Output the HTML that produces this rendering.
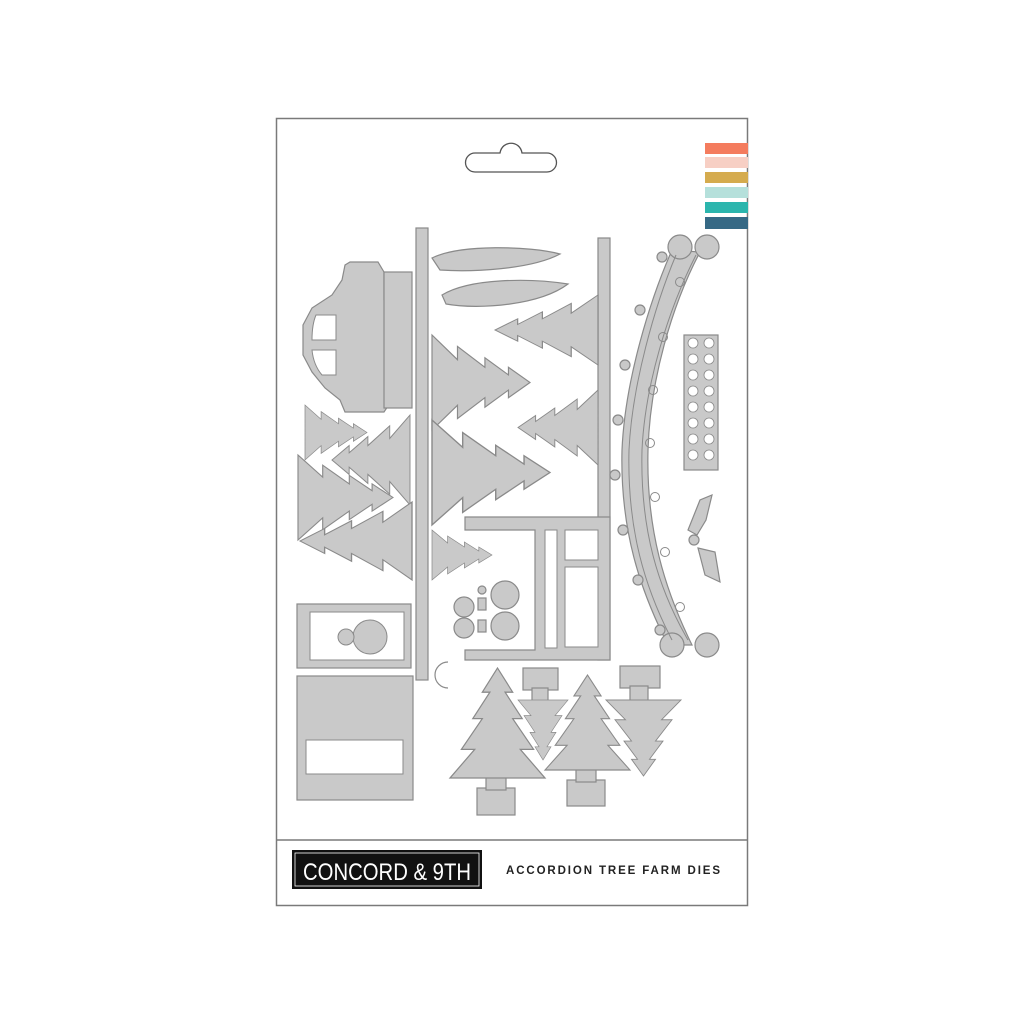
<!DOCTYPE html>
<html><head><meta charset="utf-8"><style>
html,body{margin:0;padding:0;background:#fff;width:1024px;height:1024px;overflow:hidden}
svg{display:block}
</style></head><body>
<svg width="1024" height="1024" viewBox="0 0 1024 1024">
<defs>
<path id="tree" d="M50 0 L66 22 L58 22 L76 46 L66 46 L88 74 L74 74 L100 100 L0 100 L26 74 L12 74 L34 46 L24 46 L42 22 L34 22 Z"/>
</defs>
<rect x="276.5" y="118.5" width="471" height="787" fill="#fff" stroke="#7a7a7a" stroke-width="1.5"/>
<line x1="277" y1="840" x2="747" y2="840" stroke="#7a7a7a" stroke-width="1.5"/>
<path d="M475 153 H500 C502 140 520 140 522 153 H547 A9.5 9.5 0 0 1 547 172 H475 A9.5 9.5 0 0 1 475 153 Z" fill="#fff" stroke="#555" stroke-width="1.3"/>
<rect x="705" y="143" width="43" height="11" fill="#f47c5e"/>
<rect x="705" y="157" width="43" height="11" fill="#f7cfc4"/>
<rect x="705" y="172" width="43" height="11" fill="#d5ab4e"/>
<rect x="705" y="187" width="43" height="11" fill="#b5e0db"/>
<rect x="705" y="202" width="43" height="11" fill="#2bb5ad"/>
<rect x="705" y="217" width="43" height="12" fill="#366985"/>

<g fill="#c9c9c9" stroke="#8a8a8a" stroke-width="1.2">
<!-- car -->
<path d="M350 262 H378 L384 272 V300 L392 312 V400 L384 412 H345 L340 400 L325 388 L312 372 L303 355 V325 L312 308 L332 295 L342 280 L345 265 Z"/>
<rect x="384" y="272" width="28" height="136"/>
<!-- stacked trees (sideways) -->
<use href="#tree" transform="translate(367,405) rotate(90) scale(0.55,0.62)"/>
<use href="#tree" transform="translate(332,505) rotate(-90) scale(0.9,0.78)"/>
<use href="#tree" transform="translate(393,455) rotate(90) scale(0.85,0.95)"/>
<use href="#tree" transform="translate(300,580) rotate(-90) scale(0.78,1.12)"/>
<!-- wreath box -->
<rect x="297" y="604" width="114" height="64"/>
<rect x="297" y="676" width="116" height="124"/>
<!-- vertical strips -->
<rect x="416" y="228" width="12" height="452"/>
<rect x="598" y="238" width="12" height="422"/>
<!-- leaves -->
<path d="M432 258 C460 244 530 246 560 254 C530 270 470 272 440 270 Z"/>
<path d="M442 295 C470 278 530 278 568 284 C540 305 480 310 446 304 Z"/>
<!-- sideways trees -->
<use href="#tree" transform="translate(530,335) rotate(90) scale(0.95,0.98)"/>
<use href="#tree" transform="translate(550,420) rotate(90) scale(1.05,1.18)"/>
<use href="#tree" transform="translate(492,530) rotate(90) scale(0.5,0.6)"/>
<use href="#tree" transform="translate(495,365) rotate(-90) scale(0.7,1.03)"/>
<use href="#tree" transform="translate(518,465) rotate(-90) scale(0.75,0.8)"/>
<!-- grid -->
<path d="M465 517 H610 V660 H465 V650 H535 V530 H465 Z"/>
<!-- circles -->
<circle cx="482" cy="590" r="4"/>
<circle cx="464" cy="607" r="10"/>
<circle cx="464" cy="628" r="10"/>
<rect x="478" y="598" width="8" height="12"/>
<rect x="478" y="620" width="8" height="12"/>
<circle cx="505" cy="595" r="14"/>
<circle cx="505" cy="626" r="14"/>
<path d="M448 662 A12 12 0 1 0 448 688 A10 10 0 0 1 448 662 Z"/>
<!-- bottom trees -->
<rect x="477" y="788" width="38" height="27"/>
<rect x="486" y="770" width="20" height="20"/>
<use href="#tree" transform="translate(450,668) scale(0.95,1.1)"/>
<rect x="567" y="780" width="38" height="26"/>
<rect x="576" y="762" width="20" height="20"/>
<use href="#tree" transform="translate(545,675) scale(0.85,0.95)"/>
<rect x="523" y="668" width="35" height="22"/>
<rect x="532" y="688" width="16" height="14"/>
<use href="#tree" transform="translate(518,760) scale(0.5,-0.6)"/>
<rect x="620" y="666" width="40" height="22"/>
<rect x="630" y="686" width="18" height="16"/>
<use href="#tree" transform="translate(606,776) scale(0.75,-0.76)"/>
<!-- arch -->
<path d="M672 250 C650 300 625 380 622 450 C620 530 640 590 668 645 L692 645 C665 590 646 530 648 450 C650 380 672 305 700 252 Z"/>
<circle cx="680" cy="247" r="12"/>
<circle cx="707" cy="247" r="12"/>
<circle cx="672" cy="645" r="12"/>
<circle cx="707" cy="645" r="12"/>
<circle cx="662" cy="257" r="5"/><circle cx="640" cy="310" r="5"/><circle cx="625" cy="365" r="5"/><circle cx="618" cy="420" r="5"/><circle cx="615" cy="475" r="5"/><circle cx="623" cy="530" r="5"/><circle cx="638" cy="580" r="5"/><circle cx="660" cy="630" r="5"/>
<!-- circles grid -->
<rect x="684" y="335" width="34" height="135"/>
<!-- holly -->
<path d="M688 530 L700 500 L712 495 L706 520 L697 535 Z"/>
<path d="M698 548 L715 552 L720 582 L705 575 Z"/>
<circle cx="694" cy="540" r="5"/>
</g>
<g fill="none" stroke="#8a8a8a" stroke-width="1">
<path d="M676 255 C655 305 632 385 629 450 C627 530 645 588 672 640"/>
<path d="M696 255 C668 310 645 385 642 450 C640 530 658 588 688 640"/>
<circle cx="680" cy="282" r="4.5"/><circle cx="663" cy="337" r="4.5"/><circle cx="653" cy="390" r="4.5"/><circle cx="650" cy="443" r="4.5"/><circle cx="655" cy="497" r="4.5"/><circle cx="665" cy="552" r="4.5"/><circle cx="680" cy="607" r="4.5"/>
</g>
<g fill="#fff" stroke="#8a8a8a" stroke-width="1">
<rect x="310" y="612" width="94" height="48"/>
<rect x="306" y="740" width="97" height="34"/>
<rect x="545" y="530" width="12" height="118"/>
<rect x="565" y="530" width="33" height="30"/>
<rect x="565" y="567" width="33" height="80"/>
<path d="M316 315 H336 V340 H312 C312 330 313 322 316 315 Z"/>
<path d="M312 350 H336 V375 H322 C316 368 313 360 312 350 Z"/>
<circle cx="370" cy="637" r="17" fill="#c9c9c9"/>
<circle cx="346" cy="637" r="8" fill="#c9c9c9"/>
</g>
<g fill="#fff" stroke="#8a8a8a" stroke-width="0.8">
<circle cx="693" cy="343" r="5"/><circle cx="709" cy="343" r="5"/>
<circle cx="693" cy="359" r="5"/><circle cx="709" cy="359" r="5"/>
<circle cx="693" cy="375" r="5"/><circle cx="709" cy="375" r="5"/>
<circle cx="693" cy="391" r="5"/><circle cx="709" cy="391" r="5"/>
<circle cx="693" cy="407" r="5"/><circle cx="709" cy="407" r="5"/>
<circle cx="693" cy="423" r="5"/><circle cx="709" cy="423" r="5"/>
<circle cx="693" cy="439" r="5"/><circle cx="709" cy="439" r="5"/>
<circle cx="693" cy="455" r="5"/><circle cx="709" cy="455" r="5"/>
</g>

<rect x="292" y="850" width="190" height="39" fill="#111"/>
<rect x="295" y="853" width="184" height="33" fill="none" stroke="#fff" stroke-width="0.8"/>
<text x="387" y="880" text-anchor="middle" font-family="Liberation Sans Narrow, Liberation Sans, sans-serif" font-size="24" fill="#fff" textLength="168" lengthAdjust="spacingAndGlyphs">CONCORD &amp; 9TH</text>
<text x="506" y="874" font-family="Liberation Sans, sans-serif" font-size="11.5" font-weight="bold" fill="#222" textLength="214" lengthAdjust="spacing">ACCORDION TREE FARM DIES</text>
</svg>
</body></html>
